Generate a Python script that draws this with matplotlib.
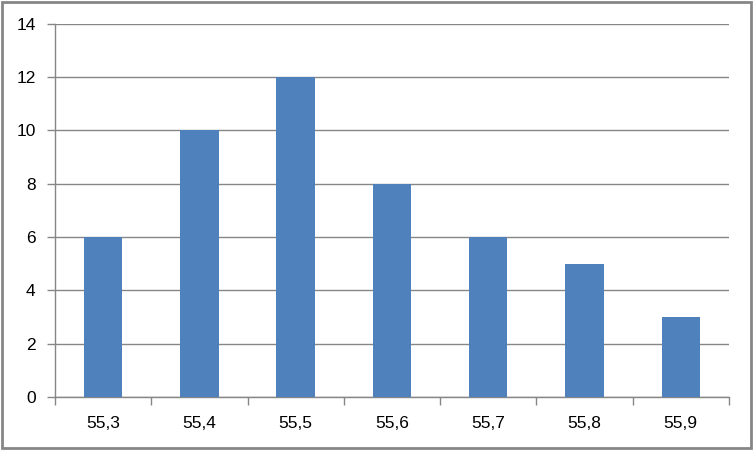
import matplotlib
matplotlib.use("Agg")
import matplotlib.pyplot as plt
from matplotlib.patches import Rectangle

# data
categories = ["55,3", "55,4", "55,5", "55,6", "55,7", "55,8", "55,9"]
counts = [6, 10, 12, 8, 6, 5, 3]
y_ticks = [0, 2, 4, 6, 8, 10, 12, 14]

plt.rcParams["font.family"] = ["Liberation Sans", "DejaVu Sans"]

fig = plt.figure(figsize=(7.53, 4.5), dpi=100)
ax = fig.add_axes([0.073, 0.118, 0.895, 0.829])

x = list(range(len(categories)))
ax.bar(x, counts, width=0.4, color="#4F81BD", zorder=3)

ax.set_xlim(-0.5, len(categories) - 0.5)
ax.set_ylim(0, 14)
ax.set_yticks(y_ticks)
ax.set_yticklabels([str(t) for t in y_ticks], fontsize=12.5, color="#000000")
ax.grid(axis="y", color="#868686", linewidth=1, zorder=0)

# category labels centred, tick marks at the boundaries
ax.set_xticks(x)
ax.set_xticklabels(categories, fontsize=12.5)
ax.tick_params(axis="x", length=0, pad=14)
ax.set_xticks([i - 0.5 for i in range(len(categories) + 1)], minor=True)
ax.tick_params(axis="x", which="minor", length=6, color="#868686", width=1)
ax.tick_params(axis="y", length=6, color="#868686", width=1, pad=8)

for side in ["top", "right"]:
    ax.spines[side].set_visible(False)
for side in ["left", "bottom"]:
    ax.spines[side].set_color("#868686")
    ax.spines[side].set_linewidth(1)

# outer chart border
fig.patches.append(Rectangle((0.002, 0.004), 0.995, 0.992, transform=fig.transFigure,
                             fill=False, edgecolor="#868686", linewidth=2))

fig.savefig("out.png", dpi=100)
